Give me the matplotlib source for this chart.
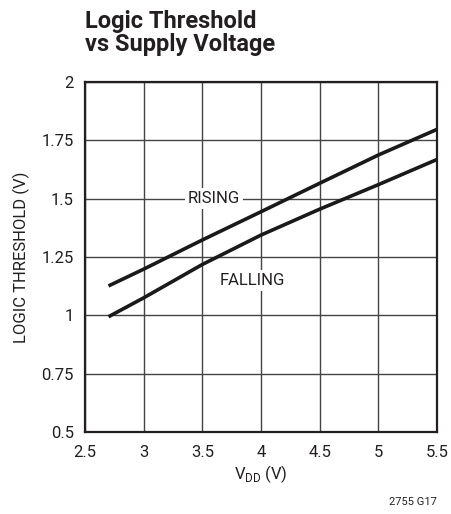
import numpy as np
import matplotlib.pyplot as plt

plt.rcParams['font.family'] = ['Roboto', 'DejaVu Sans']

vdd = [2.7, 3.0, 3.5, 4.0, 4.5, 5.0, 5.5]
rising = [1.126, 1.198, 1.323, 1.444, 1.566, 1.687, 1.797]
falling = [0.994, 1.075, 1.218, 1.344, 1.455, 1.560, 1.668]

xticks = [2.5, 3, 3.5, 4, 4.5, 5, 5.5]
yticks = [0.5, 0.75, 1, 1.25, 1.5, 1.75, 2]

fig = plt.figure(figsize=(4.51, 5.14), dpi=100)
ax = fig.add_axes([0.1885, 0.1595, 0.7805, 0.681])

ax.plot(vdd, rising, color='#1a1a1a', lw=2.6, solid_capstyle='butt', zorder=3)
ax.plot(vdd, falling, color='#1a1a1a', lw=2.6, solid_capstyle='butt', zorder=3)

ax.set_xlim(2.5, 5.5)
ax.set_ylim(0.5, 2)
ax.set_xticks(xticks)
ax.set_xticklabels(['2.5', '3', '3.5', '4', '4.5', '5', '5.5'])
ax.set_yticks(yticks)
ax.set_yticklabels(['0.5', '0.75', '1', '1.25', '1.5', '1.75', '2'])
ax.grid(True, color='#444444', lw=1.0)
ax.set_axisbelow(True)
ax.tick_params(length=0, labelsize=12, colors='#231f20')
ax.tick_params(axis='x', pad=9)
ax.tick_params(axis='y', pad=8)
for s in ax.spines.values():
    s.set_linewidth(1.6)
    s.set_color('#231f20')

ax.text(3.6, 1.5, 'RISING', ha='center', va='center', fontsize=12, color='#231f20',
        bbox=dict(facecolor='white', edgecolor='none', pad=2), zorder=4)
ax.text(3.93, 1.15, 'FALLING', ha='center', va='center', fontsize=12, color='#231f20',
        bbox=dict(facecolor='white', edgecolor='none', pad=2), zorder=4)

ax.set_xlabel('V$_{\\mathregular{DD}}$ (V)', fontsize=12, color='#231f20', labelpad=3)
ax.set_ylabel('LOGIC THRESHOLD (V)', fontsize=12, color='#231f20', labelpad=8)

fig.text(85 / 451, 1 - 10 / 514, 'Logic Threshold\nvs Supply Voltage', ha='left', va='top',
         fontsize=17, fontweight='bold', color='#231f20', linespacing=1.0)
fig.text(437 / 451, 1 - 505 / 514, '2755 G17', ha='right', va='baseline', fontsize=8,
         color='#231f20')

fig.savefig('out.png', dpi=100)
